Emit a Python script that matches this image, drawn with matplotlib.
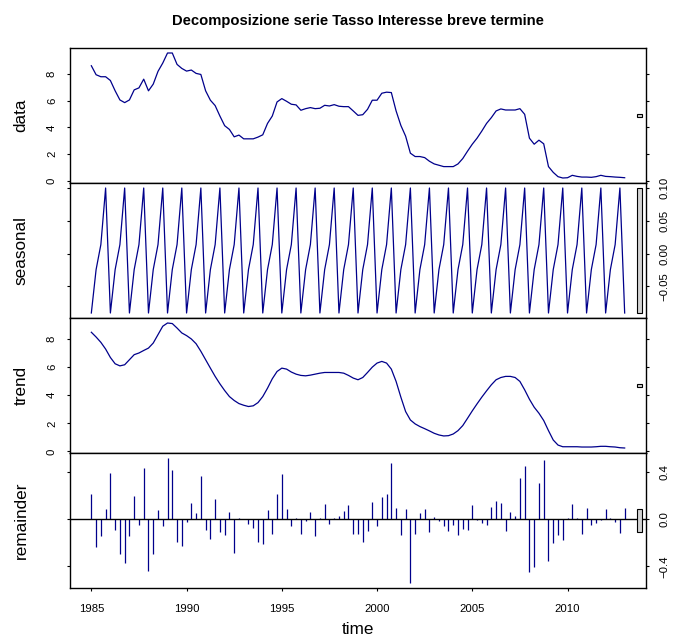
import numpy as np
import matplotlib
matplotlib.use("Agg")
import matplotlib.pyplot as plt
from matplotlib.patches import Rectangle

plt.rcParams['font.family'] = ['Liberation Sans', 'DejaVu Sans']

# ---------------- data (quarterly, 1985Q1 - 2013Q1) ----------------
start_year = 1985
frequency = 4

data_values = [
    8.60, 7.93, 7.78, 7.78,   # 1985
    7.50, 6.73, 6.05, 5.85,   # 1986
    6.05, 6.80, 6.95, 7.60,   # 1987
    6.73, 7.23, 8.18, 8.80,   # 1988
    9.55, 9.55, 8.70, 8.40,   # 1989
    8.20, 8.28, 8.03, 7.95,   # 1990
    6.73, 6.03, 5.63, 4.85,   # 1991
    4.13, 3.85, 3.30, 3.43,   # 1992
    3.15, 3.15, 3.15, 3.28,   # 1993
    3.45, 4.30, 4.85, 5.90,   # 1994
    6.15, 5.95, 5.73, 5.68,   # 1995
    5.28, 5.40, 5.48, 5.40,   # 1996
    5.43, 5.65, 5.60, 5.70,   # 1997
    5.58, 5.55, 5.55, 5.23,   # 1998
    4.90, 4.95, 5.35, 6.03,   # 1999
    6.03, 6.55, 6.63, 6.60,   # 2000
    5.23, 4.15, 3.35, 2.08,   # 2001
    1.83, 1.83, 1.75, 1.48,   # 2002
    1.28, 1.18, 1.08, 1.08,   # 2003
    1.08, 1.28, 1.68, 2.23,   # 2004
    2.75, 3.20, 3.73, 4.30,   # 2005
    4.73, 5.23, 5.38, 5.30,   # 2006
    5.30, 5.30, 5.40, 4.98,   # 2007
    3.20, 2.75, 3.05, 2.78,   # 2008
    1.08, 0.65, 0.33, 0.23,   # 2009
    0.25, 0.43, 0.35, 0.30,   # 2010
    0.30, 0.28, 0.33, 0.43,   # 2011
    0.35, 0.33, 0.30, 0.28,   # 2012
    0.25,                     # 2013
]

seasonal_values = [
    -0.091, -0.0245, 0.0138, 0.1005,  # 1985
    -0.091, -0.0245, 0.0138, 0.1005,  # 1986
    -0.091, -0.0245, 0.0138, 0.1005,  # 1987
    -0.091, -0.0245, 0.0138, 0.1005,  # 1988
    -0.091, -0.0245, 0.0138, 0.1005,  # 1989
    -0.091, -0.0245, 0.0138, 0.1005,  # 1990
    -0.091, -0.0245, 0.0138, 0.1005,  # 1991
    -0.091, -0.0245, 0.0138, 0.1005,  # 1992
    -0.091, -0.0245, 0.0138, 0.1005,  # 1993
    -0.091, -0.0245, 0.0138, 0.1005,  # 1994
    -0.091, -0.0245, 0.0138, 0.1005,  # 1995
    -0.091, -0.0245, 0.0138, 0.1005,  # 1996
    -0.091, -0.0245, 0.0138, 0.1005,  # 1997
    -0.091, -0.0245, 0.0138, 0.1005,  # 1998
    -0.091, -0.0245, 0.0138, 0.1005,  # 1999
    -0.091, -0.0245, 0.0138, 0.1005,  # 2000
    -0.091, -0.0245, 0.0138, 0.1005,  # 2001
    -0.091, -0.0245, 0.0138, 0.1005,  # 2002
    -0.091, -0.0245, 0.0138, 0.1005,  # 2003
    -0.091, -0.0245, 0.0138, 0.1005,  # 2004
    -0.091, -0.0245, 0.0138, 0.1005,  # 2005
    -0.091, -0.0245, 0.0138, 0.1005,  # 2006
    -0.091, -0.0245, 0.0138, 0.1005,  # 2007
    -0.091, -0.0245, 0.0138, 0.1005,  # 2008
    -0.091, -0.0245, 0.0138, 0.1005,  # 2009
    -0.091, -0.0245, 0.0138, 0.1005,  # 2010
    -0.091, -0.0245, 0.0138, 0.1005,  # 2011
    -0.091, -0.0245, 0.0138, 0.1005,  # 2012
    -0.091,                           # 2013
]

trend_values = [
    8.50, 8.16, 7.78, 7.30,   # 1985
    6.70, 6.25, 6.10, 6.18,   # 1986
    6.54, 6.90, 7.02, 7.20,   # 1987
    7.37, 7.73, 8.33, 8.93,   # 1988
    9.16, 9.12, 8.80, 8.45,   # 1989
    8.26, 8.02, 7.68, 7.14,   # 1990
    6.54, 5.94, 5.35, 4.82,   # 1991
    4.34, 3.91, 3.63, 3.41,   # 1992
    3.29, 3.20, 3.25, 3.48,   # 1993
    3.91, 4.51, 5.18, 5.70,   # 1994
    5.94, 5.87, 5.66, 5.51,   # 1995
    5.42, 5.39, 5.44, 5.51,   # 1996
    5.58, 5.63, 5.63, 5.63,   # 1997
    5.63, 5.58, 5.42, 5.23,   # 1998
    5.11, 5.27, 5.63, 6.01,   # 1999
    6.30, 6.42, 6.30, 5.87,   # 2000
    4.99, 3.87, 2.84, 2.24,   # 2001
    1.96, 1.77, 1.62, 1.46,   # 2002
    1.29, 1.17, 1.10, 1.12,   # 2003
    1.24, 1.48, 1.84, 2.36,   # 2004
    2.89, 3.39, 3.87, 4.32,   # 2005
    4.75, 5.11, 5.27, 5.35,   # 2006
    5.35, 5.27, 4.99, 4.39,   # 2007
    3.72, 3.15, 2.72, 2.20,   # 2008
    1.48, 0.81, 0.45, 0.33,   # 2009
    0.33, 0.33, 0.33, 0.31,   # 2010
    0.31, 0.31, 0.33, 0.36,   # 2011
    0.36, 0.33, 0.31, 0.26,   # 2012
    0.24,                     # 2013
]

remainder_values = [
    0.213, -0.235, -0.145, 0.084,    # 1985
    0.389, -0.090, -0.297, -0.375,   # 1986
    -0.140, 0.196, -0.050, 0.436,    # 1987
    -0.442, -0.297, 0.076, -0.062,   # 1988
    0.517, 0.414, -0.190, -0.224,    # 1989
    -0.022, 0.140, 0.048, 0.364,     # 1990
    -0.090, -0.170, 0.168, -0.106,   # 1991
    -0.131, 0.062, -0.283, 0.011,    # 1992
    -0.003, -0.040, -0.076, -0.196,  # 1993
    -0.210, 0.073, -0.126, 0.213,    # 1994
    0.383, 0.081, -0.059, 0.011,     # 1995
    -0.123, -0.020, 0.056, -0.145,   # 1996
    0.011, 0.129, -0.045, 0.005,     # 1997
    0.028, 0.070, 0.120, -0.123,     # 1998
    -0.123, -0.196, -0.098, 0.143,   # 1999
    -0.056, 0.185, 0.213, 0.478,     # 2000
    0.095, -0.131, 0.084, -0.537,    # 2001
    -0.126, 0.050, 0.087, -0.109,    # 2002
    0.020, -0.014, -0.062, -0.098,   # 2003
    -0.048, -0.134, -0.084, -0.090,  # 2004
    0.117, -0.011, -0.031, -0.048,   # 2005
    0.106, 0.154, 0.137, -0.098,     # 2006
    0.064, 0.025, 0.344, 0.448,      # 2007
    -0.448, -0.406, 0.308, 0.503,    # 2008
    -0.355, -0.199, -0.137, -0.173,  # 2009
    0.011, 0.126, 0.006, -0.123,     # 2010
    0.095, -0.048, -0.034, -0.011,   # 2011
    0.081, 0.011, -0.022, -0.120,    # 2012
    0.090,                           # 2013
]

panel_labels = ["data", "seasonal", "trend", "remainder"]
x_ticks = [1985, 1990, 1995, 2000, 2005, 2010]
data_ticks = [0, 2, 4, 6, 8]
data_tick_labels = ["0", "2", "4", "6", "8"]
seasonal_ticks = [-0.05, 0.0, 0.05, 0.10]
seasonal_tick_labels = ["\u22120.05", "0.00", "0.05", "0.10"]
trend_ticks = [0, 2, 4, 6, 8]
trend_tick_labels = ["0", "2", "4", "6", "8"]
remainder_ticks = [-0.4, 0.0, 0.4]
remainder_tick_labels = ["\u22120.4", "0.0", "0.4"]
title_text = "Decomposizione serie Tasso Interesse breve termine"
x_label = "time"

# ---------------- drawing ----------------
line_color = "#00008B"
W, H = 673, 638
fig = plt.figure(figsize=(W / 100, H / 100), dpi=100)

series = [np.array(data_values), np.array(seasonal_values),
          np.array(trend_values), np.array(remainder_values)]
ticks = [data_ticks, seasonal_ticks, trend_ticks, remainder_ticks]
tick_labels = [data_tick_labels, seasonal_tick_labels, trend_tick_labels,
               remainder_tick_labels]

n = len(data_values)
t = start_year + np.arange(n) / frequency
x_lo, x_hi = t.min(), t.max()
xr = x_hi - x_lo
xlim = (x_lo - 0.04 * xr, x_hi + 0.04 * xr)

bar_height = min(s.max() - s.min() for s in series)

left_px, right_px = 70, 646
edges = [48, 183, 318, 453, 587.5]

for i, (s, lab) in enumerate(zip(series, panel_labels)):
    top, bot = edges[i], edges[i + 1]
    ax = fig.add_axes([left_px / W, 1 - bot / H, (right_px - left_px) / W,
                       (bot - top) / H])
    if i < 3:
        ax.plot(t, s, color=line_color, lw=0.9)
    else:
        ax.vlines(t, 0, s, color=line_color, lw=0.9)
        ax.axhline(0, color="black", lw=1.0)
    lo, hi = s.min(), s.max()
    r = hi - lo
    ax.set_ylim(lo - 0.04 * r, hi + 0.04 * r)
    ax.set_xlim(*xlim)

    # range bar
    dx = (xlim[1] - xlim[0]) / 64
    yc = (lo + hi) / 2
    ax.add_patch(Rectangle((xlim[1] - dx, yc - bar_height / 2), 0.6 * dx,
                           bar_height, facecolor="#D3D3D3", edgecolor="black",
                           lw=0.8, clip_on=False, zorder=5))

    for sp in ax.spines.values():
        sp.set_linewidth(1.0)
        sp.set_color("black")

    right = (i % 2 == 1)
    ax.set_yticks(ticks[i])
    ax.set_yticklabels(tick_labels[i])
    ax.tick_params(axis="y", left=True, right=True, labelleft=not right,
                   labelright=right, direction="out", length=2.5, width=0.8,
                   labelsize=8.2, pad=10.5)
    for tl in ax.get_yticklabels():
        tl.set_rotation(90)
        tl.set_va("center")
        tl.set_ha("center")
    ax.set_xticks(x_ticks)
    ax.set_xticklabels([str(v) for v in x_ticks])
    ax.tick_params(axis="x", bottom=True, top=False,
                   labelbottom=(i == 3), direction="out", length=2.5,
                   width=0.8, labelsize=8.2, pad=9.5)

    fig.text(21 / W, 1 - (top + bot) / 2 / H, lab, rotation=90,
             ha="center", va="center", fontsize=12.3)

fig.text(358 / W, 1 - 630 / H, x_label, ha="center", va="center",
         fontsize=12.3)
fig.text(358 / W, 1 - 21 / H, title_text, ha="center", va="center",
         fontsize=10.6, fontweight="bold")

fig.savefig("out.png", dpi=100)
